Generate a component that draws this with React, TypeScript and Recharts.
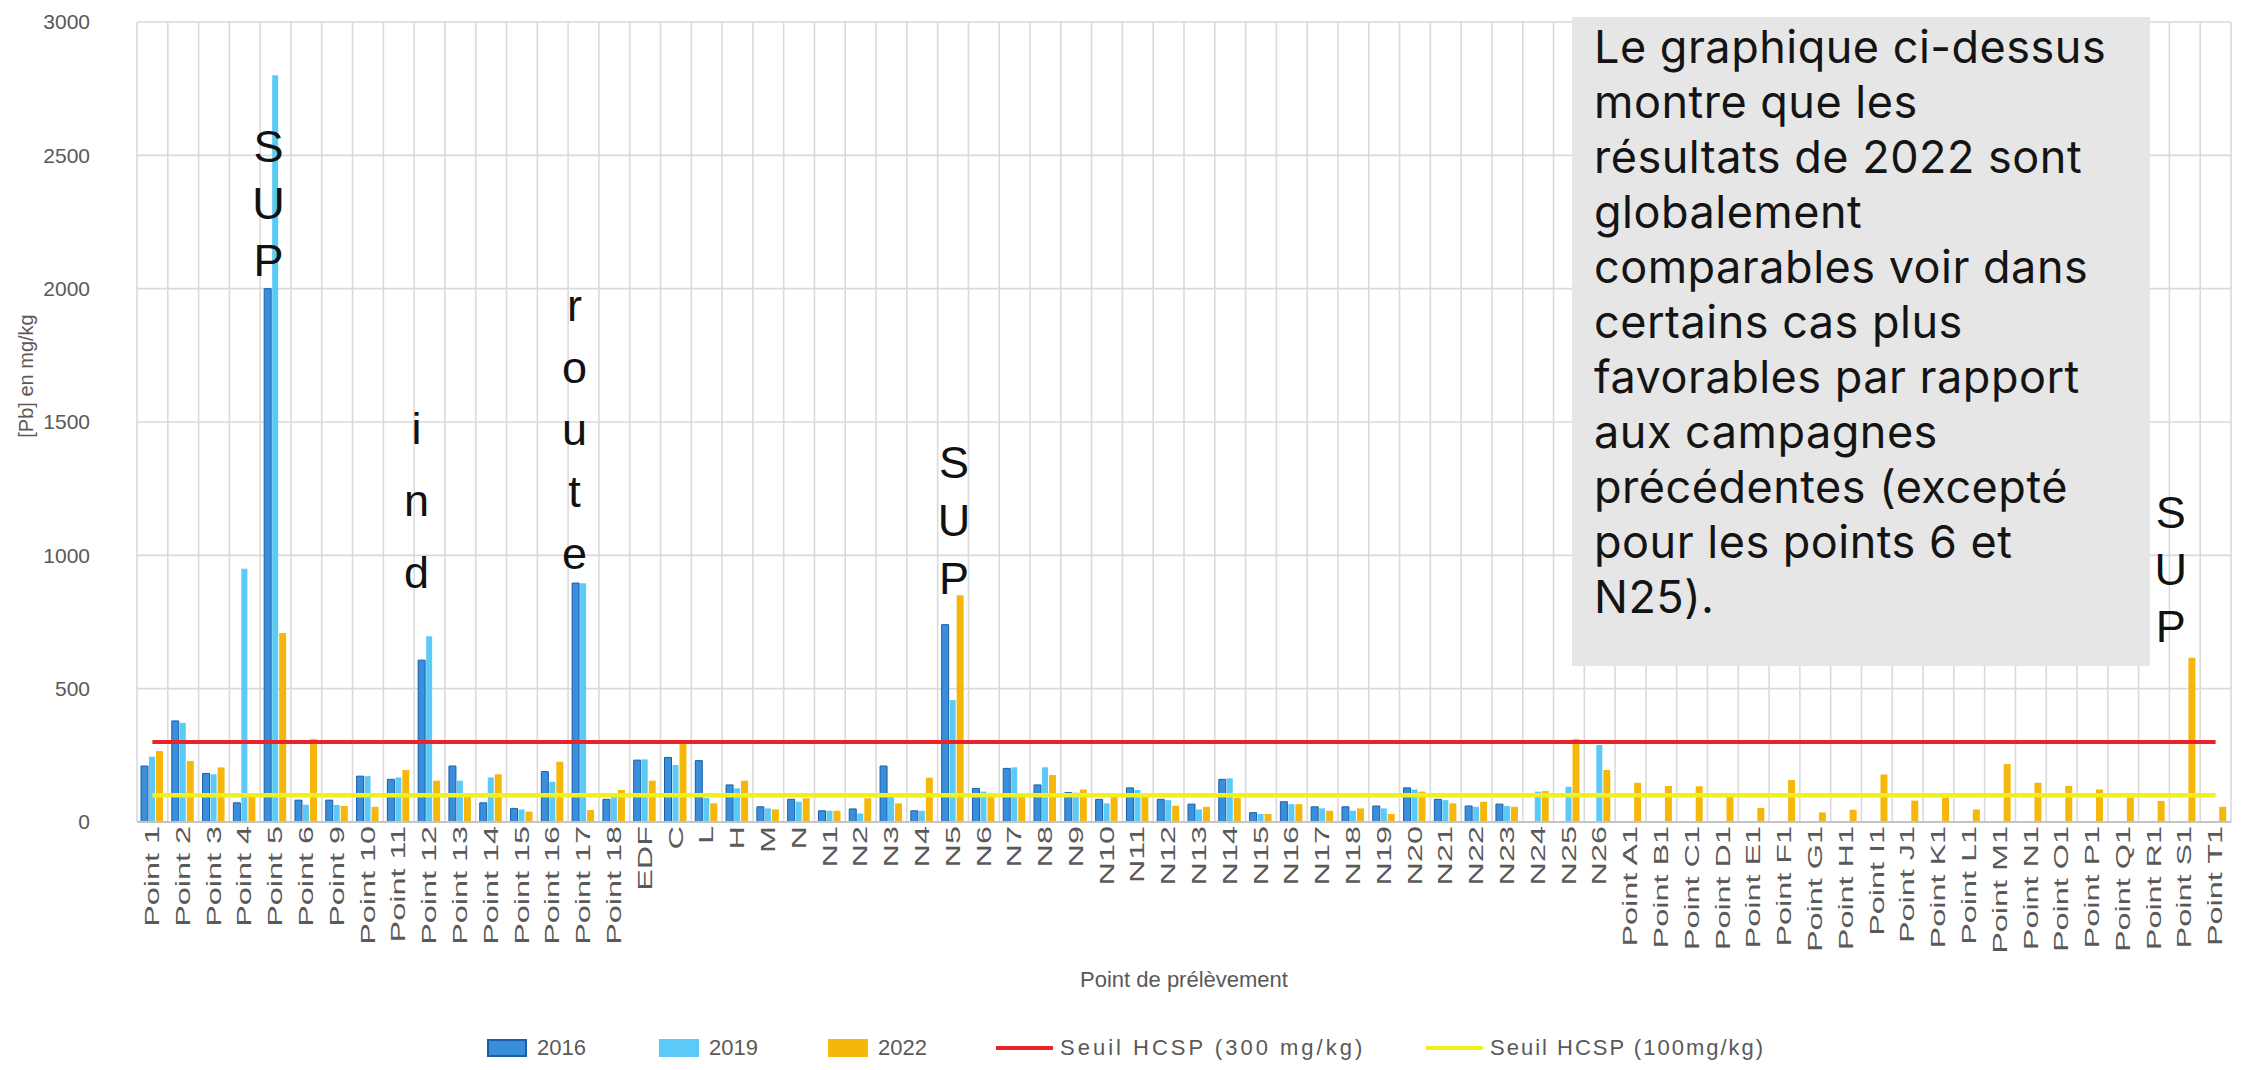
import React from 'react';
import {
  ComposedChart, Bar, XAxis, YAxis, CartesianGrid, Legend, ReferenceLine, ReferenceDot, Label,
} from 'recharts';

const categories = [
  'Point 1', 'Point 2', 'Point 3', 'Point 4', 'Point 5', 'Point 6', 'Point 9', 'Point 10', 'Point 11', 'Point 12',
  'Point 13', 'Point 14', 'Point 15', 'Point 16', 'Point 17', 'Point 18', 'EDF', 'C', 'L', 'H', 'M', 'N',
  'N1', 'N2', 'N3', 'N4', 'N5', 'N6', 'N7', 'N8', 'N9', 'N10', 'N11', 'N12', 'N13', 'N14', 'N15', 'N16', 'N17',
  'N18', 'N19', 'N20', 'N21', 'N22', 'N23', 'N24', 'N25', 'N26',
  'Point A1', 'Point B1', 'Point C1', 'Point D1', 'Point E1', 'Point F1', 'Point G1', 'Point H1', 'Point I1',
  'Point J1', 'Point K1', 'Point L1', 'Point M1', 'Point N1', 'Point O1', 'Point P1', 'Point Q1', 'Point R1',
  'Point S1', 'Point T1',
];

const values2016: (number | null)[] = [
  210, 379, 182, 72, 2000, 82, 82, 172, 160, 607,
  210, 72, 51, 189, 896, 85, 232, 242, 230, 139, 57, 85,
  42, 49, 210, 42, 740, 126, 201, 139, 110, 85, 128, 85, 67, 160, 35, 76, 57,
  57, 60, 128, 85, 60, 67, null, null, null,
  null, null, null, null, null, null, null, null, null,
  null, null, null, null, null, null, null, null, null,
  null, null,
];

const values2019: (number | null)[] = [
  245, 372, 179, 950, 2800, 65, 64, 172, 167, 697,
  155, 167, 47, 151, 895, 95, 235, 214, 90, 126, 51, 76,
  42, 32, 100, 42, 457, 114, 205, 205, 110, 70, 120, 82, 47, 164, 30, 67, 51,
  42, 51, 122, 82, 57, 60, 114, 132, 289,
  null, null, null, null, null, null, null, null, null,
  null, null, null, null, null, null, null, null, null,
  null, null,
];

const values2022: (number | null)[] = [
  266, 229, 205, 95, 709, 311, 60, 57, 195, 155,
  95, 179, 39, 226, 45, 120, 155, 295, 70, 155, 47, 89,
  42, 89, 70, 166, 850, 95, 95, 176, 122, 95, 95, 61, 57, 91, 30, 67, 42,
  51, 30, 114, 70, 76, 57, 116, 311, 195,
  147, 135, 134, 107, 53, 157, 36, 46, 178,
  80, 92, 47, 217, 147, 135, 122, 92, 79,
  616, 57,
];

const yTicks = [0, 500, 1000, 1500, 2000, 2500, 3000];
const thresholdHigh = 300;
const thresholdLow = 100;

const seriesNames = ['2016', '2019', '2022'];
const thresholdNames = ['Seuil HCSP (300 mg/kg)', 'Seuil HCSP (100mg/kg)'];

const noteLines = [
  'Le graphique ci-dessus',
  'montre que les',
  'résultats de 2022 sont',
  'globalement',
  'comparables voir dans',
  'certains cas plus',
  'favorables par rapport',
  'aux campagnes',
  'précédentes (excepté',
  'pour les points 6 et',
  'N25).',
];

const annotations = [
  { cat: 'Point 5', top: 2475, text: 'SUP', step: 57, dx: -7 },
  { cat: 'Point 12', top: 1417, text: 'ind', step: 72, dx: -13 },
  { cat: 'Point 17', top: 1879, text: 'route', step: 62, dx: -9 },
  { cat: 'N5', top: 1290, text: 'SUP', step: 58, dx: 1 },
  { cat: 'Point S1', top: 1102, text: 'SUP', step: 57, dx: -14 },
];

const data = categories.map((name, i) => ({
  name,
  v2016: values2016[i],
  v2019: values2019[i],
  v2022: values2022[i],
}));

const C2016 = '#3a8fdc';
const C2016S = '#1b5ea6';
const C2019 = '#5ccaf6';
const C2022 = '#f6b70c';
const CRED = '#e8232a';
const CYEL = '#f0f01e';
const GRID = '#dadada';
const TXT = '#595959';
const FONT = '"Liberation Sans", Arial, sans-serif';

const XTick = (props: any) => {
  const { x, y, payload } = props;
  return (
    <g transform={`translate(${x},${y})`}>
      <text
        transform="rotate(-90) scale(1.62,1)"
        x={0}
        y={0}
        textAnchor="end"
        dominantBaseline="central"
        fontSize={20}
        fill={TXT}
        fontFamily={FONT}
      >
        {payload.value}
      </text>
    </g>
  );
};

const YLabel = (props: any) => {
  const vb = props.viewBox || {};
  const cx = (vb.x ?? 77) - 51;
  const cy = (vb.y ?? 22) + (vb.height ?? 800) / 2 - 46;
  return (
    <text
      x={cx}
      y={cy}
      transform={`rotate(-90, ${cx}, ${cy})`}
      textAnchor="middle"
      dominantBaseline="central"
      fontSize={20}
      fill={TXT}
      fontFamily={FONT}
    >
      [Pb] en mg/kg
    </text>
  );
};

const makeStack = (text: string, step: number, dx: number) => (props: any) => {
  const { cx, cy } = props;
  if (typeof cx !== 'number' || typeof cy !== 'number') return <g />;
  return (
    <g>
      {text.split('').map((ch, i) => (
        <text
          key={i}
          x={cx + dx}
          y={cy + i * step}
          textAnchor="middle"
          fontSize={45}
          fill="#111"
          fontFamily={FONT}
        >
          {ch}
        </text>
      ))}
    </g>
  );
};

const legendItems = [
  { label: seriesNames[0], kind: 'rect', fill: C2016, stroke: C2016S, left: 487, spacing: 0 },
  { label: seriesNames[1], kind: 'rect', fill: C2019, stroke: C2019, left: 659, spacing: 0 },
  { label: seriesNames[2], kind: 'rect', fill: C2022, stroke: C2022, left: 828, spacing: 0 },
  { label: thresholdNames[0], kind: 'line', fill: CRED, stroke: CRED, left: 996, spacing: 3 },
  { label: thresholdNames[1], kind: 'line', fill: CYEL, stroke: CYEL, left: 1426, spacing: 2 },
];

const LEGEND_SHIFT = 77;

const LegendContent = () => (
  <div style={{ position: 'relative', width: 2154, height: 73 }}>
    {legendItems.map((it) => (
      <div
        key={it.label}
        style={{
          position: 'absolute',
          left: it.left - LEGEND_SHIFT,
          top: 40,
          height: 22,
          display: 'flex',
          alignItems: 'center',
          fontFamily: FONT,
          fontSize: 22,
          color: TXT,
          whiteSpace: 'nowrap',
        }}
      >
        {it.kind === 'rect' ? (
          <span
            style={{
              display: 'inline-block',
              width: 40,
              height: 18,
              background: it.fill,
              border: `2px solid ${it.stroke}`,
              boxSizing: 'border-box',
              marginRight: 10,
            }}
          />
        ) : (
          <span
            style={{
              display: 'inline-block',
              width: 57,
              height: 4,
              background: it.fill,
              marginRight: 7,
            }}
          />
        )}
        <span style={{ letterSpacing: it.spacing }}>{it.label}</span>
      </div>
    ))}
  </div>
);

const N = categories.length;

export default function App() {
  return (
    <div style={{ position: 'absolute', left: 0, top: 0, width: 2247, height: 1070, background: '#fff' }}>
      <ComposedChart
        width={2247}
        height={1070}
        data={data}
        margin={{ top: 22, right: 16, left: 77, bottom: 0 }}
        barGap={1}
      >
        <CartesianGrid
          stroke={GRID}
          strokeWidth={1.6}
          verticalCoordinatesGenerator={({ offset }: any) =>
            Array.from({ length: N + 1 }, (_, i) => offset.left + (i * offset.width) / N)
          }
        />
        <XAxis
          dataKey="name"
          interval={0}
          height={175}
          tick={<XTick />}
          tickLine={false}
          tickSize={0}
          tickMargin={4}
          axisLine={{ stroke: '#c4c4c4', strokeWidth: 2 }}
        >
          <Label
            value="Point de prélèvement"
            position="insideBottom"
            offset={10}
            fill={TXT}
            fontSize={22}
            fontFamily={FONT}
          />
        </XAxis>
        <YAxis
          width={60}
          domain={[0, 3000]}
          ticks={yTicks}
          interval={0}
          axisLine={false}
          tickLine={false}
          tickSize={0}
          tickMargin={47}
          tick={{ fill: TXT, fontSize: 21, fontFamily: FONT }}
        >
          <Label content={<YLabel />} />
        </YAxis>
        <Legend verticalAlign="bottom" content={<LegendContent />} />
        <Bar dataKey="v2016" name={seriesNames[0]} fill={C2016} stroke={C2016S} strokeWidth={1} barSize={7} isAnimationActive={false} />
        <Bar dataKey="v2019" name={seriesNames[1]} fill={C2019} barSize={6} isAnimationActive={false} />
        <Bar dataKey="v2022" name={seriesNames[2]} fill={C2022} barSize={7} isAnimationActive={false} />
        <ReferenceLine
          segment={[{ x: categories[0], y: thresholdHigh }, { x: categories[N - 1], y: thresholdHigh }]}
          stroke={CRED}
          strokeWidth={4}
        />
        <ReferenceLine
          segment={[{ x: categories[0], y: thresholdLow }, { x: categories[N - 1], y: thresholdLow }]}
          stroke={CYEL}
          strokeWidth={4.5}
        />
        {annotations.map((a) => (
          <ReferenceDot
            key={a.cat}
            x={a.cat}
            y={a.top}
            r={0}
            ifOverflow="visible"
            shape={makeStack(a.text, a.step, a.dx)}
          />
        ))}
      </ComposedChart>
      <div
        style={{
          position: 'absolute',
          left: 1572,
          top: 17,
          width: 578,
          height: 649,
          background: '#e6e6e6',
          boxSizing: 'border-box',
          paddingLeft: 22,
          paddingTop: 2,
          fontFamily: 'Inter, "Noto Sans", sans-serif',
          fontSize: 45,
          lineHeight: '55px',
          color: '#141414',
          letterSpacing: 0.5,
        }}
      >
        {noteLines.map((l) => (
          <div key={l} style={{ whiteSpace: 'nowrap' }}>{l}</div>
        ))}
      </div>
    </div>
  );
}
